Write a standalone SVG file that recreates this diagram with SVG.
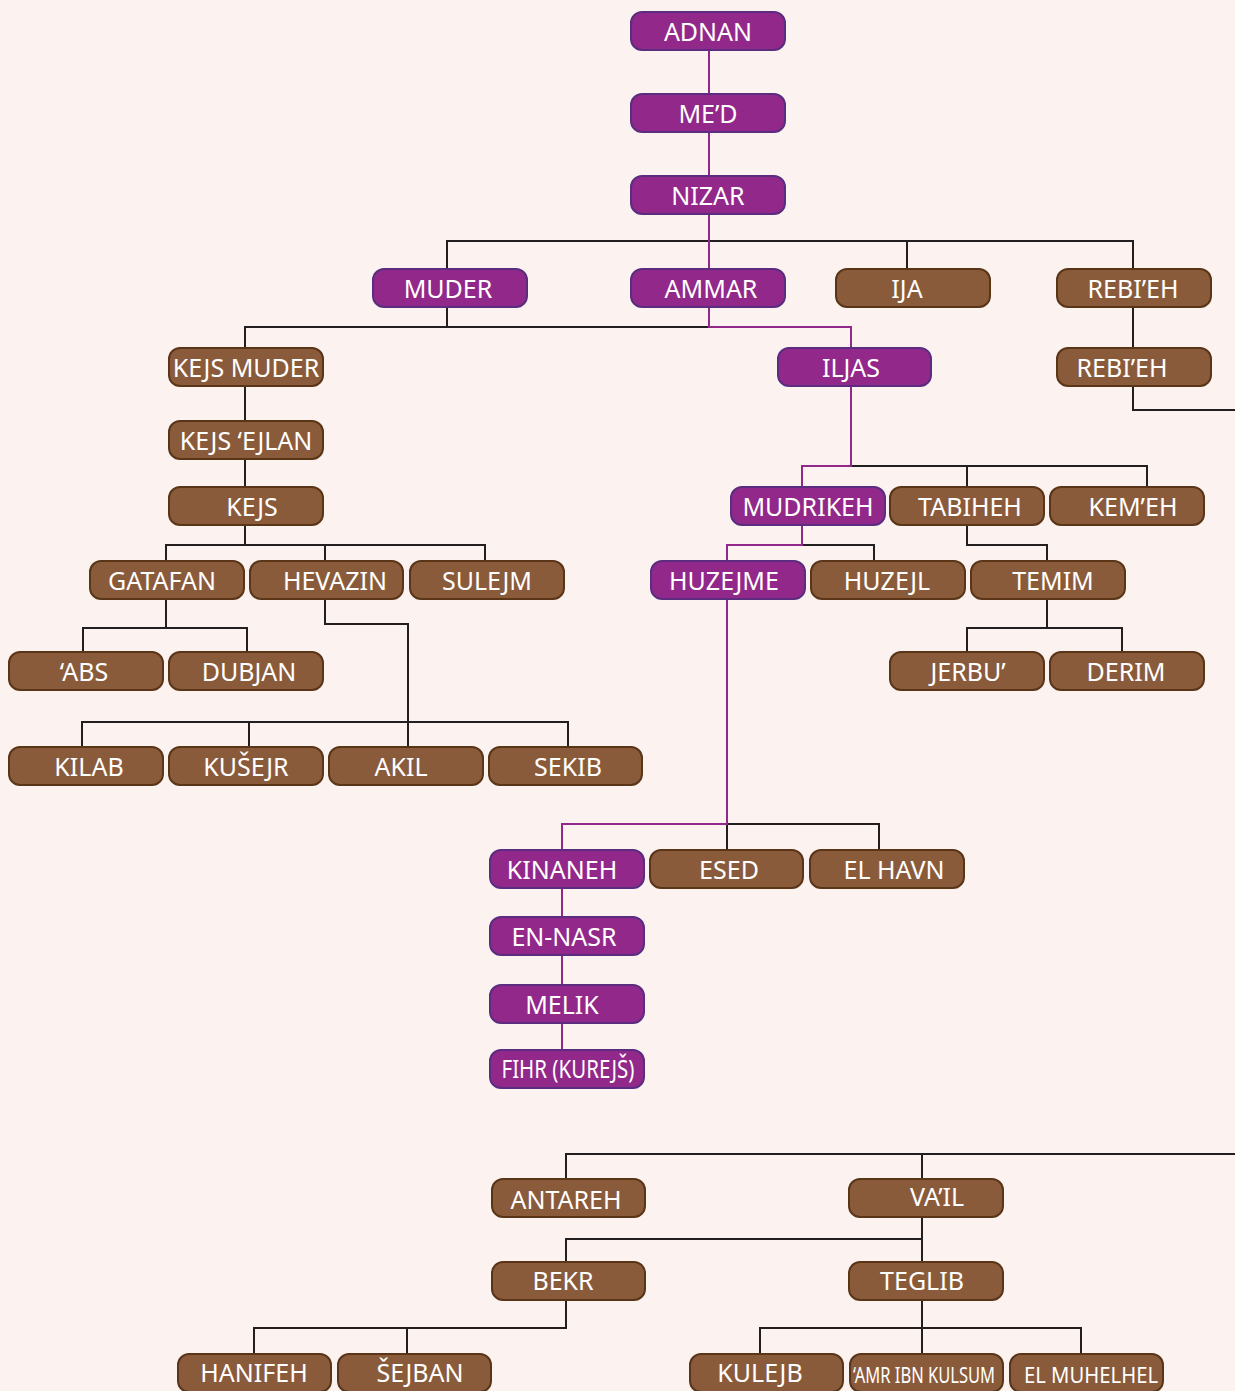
<svg xmlns="http://www.w3.org/2000/svg" width="1235" height="1391" viewBox="0 0 1235 1391">
<style>
.p{fill:#91288A;stroke:#5B2D80;stroke-width:2}
.b{fill:#8A5B3B;stroke:#5A3518;stroke-width:2}
text{font-family:"Noto Sans","Open Sans",sans-serif;font-size:25px;fill:#fff;text-anchor:middle}
.s{font-size:21px}
.k{fill:none;stroke:#231F20;stroke-width:2}
.m{fill:none;stroke:#91288A;stroke-width:2}
</style>
<rect width="1235" height="1391" fill="#FCF3F1"/>
<g id="connectors">
<path class="k" d="M447 269V241H1133V269M907 241V269"/>
<path class="k" d="M447 307V327M245 348V327H709M245 386V421M245 459V487M245 525V545M166 561V545H485V561M325 545V561"/>
<path class="k" d="M1133 307V348M1133 386V410H1235"/>
<path class="k" d="M166 599V628M83 652V628H247V652M325 599V624H408V747M82 747V722H568V750M249 722V747"/>
<path class="k" d="M851 466H1147V487M967 466V487M802 545H874V561M967 525V545H1047V561M1047 599V628M967 652V628H1122V652"/>
<path class="k" d="M727 824H879V850M727 824V850"/>
<path class="k" d="M566 1179V1154H1235M922 1154V1179M922 1217V1262M566 1262V1239H922M566 1300V1328H254V1354M407 1328V1354M922 1300V1354M760 1354V1328H1081V1354"/>
<path class="m" d="M709 50V94M709 132V176M709 214V269M709 307V327H851V348M851 386V466H802V487M802 525V545H727V561M727 599V824H562V850M562 888V917M562 955V985M562 1023V1050"/>
</g>
<g id="adnan"><rect class="p" x="631" y="12" width="154" height="38" rx="11"/><text x="708" y="41">ADNAN</text></g>
<g id="med"><rect class="p" x="631" y="94" width="154" height="38" rx="11"/><text x="708" y="123">ME’D</text></g>
<g id="nizar"><rect class="p" x="631" y="176" width="154" height="38" rx="11"/><text x="708" y="205">NIZAR</text></g>
<g id="muder"><rect class="p" x="373" y="269" width="154" height="38" rx="11"/><text x="448" y="298">MUDER</text></g>
<g id="ammar"><rect class="p" x="631" y="269" width="154" height="38" rx="11"/><text x="711" y="298">AMMAR</text></g>
<g id="ija"><rect class="b" x="836" y="269" width="154" height="38" rx="11"/><text x="907" y="298">IJA</text></g>
<g id="rebieh1"><rect class="b" x="1057" y="269" width="154" height="38" rx="11"/><text x="1133" y="298">REBI’EH</text></g>
<g id="kejsmuder"><rect class="b" x="169" y="348" width="154" height="38" rx="11"/><text x="246" y="377">KEJS MUDER</text></g>
<g id="iljas"><rect class="p" x="778" y="348" width="153" height="38" rx="11"/><text x="851" y="377">ILJAS</text></g>
<g id="rebieh2"><rect class="b" x="1057" y="348" width="154" height="38" rx="11"/><text x="1122" y="377">REBI’EH</text></g>
<g id="kejsejlan"><rect class="b" x="169" y="421" width="154" height="38" rx="11"/><text x="246" y="450">KEJS ‘EJLAN</text></g>
<g id="kejs"><rect class="b" x="169" y="487" width="154" height="38" rx="11"/><text x="252" y="516">KEJS</text></g>
<g id="mudrikeh"><rect class="p" x="731" y="487" width="154" height="38" rx="11"/><text x="808" y="516">MUDRIKEH</text></g>
<g id="tabiheh"><rect class="b" x="890" y="487" width="154" height="38" rx="11"/><text x="970" y="516">TABIHEH</text></g>
<g id="kemeh"><rect class="b" x="1050" y="487" width="154" height="38" rx="11"/><text x="1133" y="516">KEM’EH</text></g>
<g id="gatafan"><rect class="b" x="90" y="561" width="154" height="38" rx="11"/><text x="162" y="590">GATAFAN</text></g>
<g id="hevazin"><rect class="b" x="250" y="561" width="153" height="38" rx="11"/><text x="335" y="590">HEVAZIN</text></g>
<g id="sulejm"><rect class="b" x="410" y="561" width="154" height="38" rx="11"/><text x="487" y="590">SULEJM</text></g>
<g id="huzejme"><rect class="p" x="651" y="561" width="154" height="38" rx="11"/><text x="724" y="590">HUZEJME</text></g>
<g id="huzejl"><rect class="b" x="811" y="561" width="154" height="38" rx="11"/><text x="887" y="590">HUZEJL</text></g>
<g id="temim"><rect class="b" x="971" y="561" width="154" height="38" rx="11"/><text x="1053" y="590">TEMIM</text></g>
<g id="abs"><rect class="b" x="9" y="652" width="154" height="38" rx="11"/><text x="84" y="681">‘ABS</text></g>
<g id="dubjan"><rect class="b" x="169" y="652" width="154" height="38" rx="11"/><text x="249" y="681">DUBJAN</text></g>
<g id="jerbu"><rect class="b" x="890" y="652" width="154" height="38" rx="11"/><text x="968" y="681">JERBU’</text></g>
<g id="derim"><rect class="b" x="1050" y="652" width="154" height="38" rx="11"/><text x="1126" y="681">DERIM</text></g>
<g id="kilab"><rect class="b" x="9" y="747" width="154" height="38" rx="11"/><text x="89" y="776">KILAB</text></g>
<g id="kusejr"><rect class="b" x="169" y="747" width="154" height="38" rx="11"/><text x="246" y="776">KUŠEJR</text></g>
<g id="akil"><rect class="b" x="329" y="747" width="154" height="38" rx="11"/><text x="401" y="776">AKIL</text></g>
<g id="sekib"><rect class="b" x="489" y="747" width="153" height="38" rx="11"/><text x="568" y="776">SEKIB</text></g>
<g id="kinaneh"><rect class="p" x="490" y="850" width="154" height="38" rx="11"/><text x="562" y="879">KINANEH</text></g>
<g id="esed"><rect class="b" x="650" y="850" width="153" height="38" rx="11"/><text x="729" y="879">ESED</text></g>
<g id="elhavn"><rect class="b" x="810" y="850" width="154" height="38" rx="11"/><text x="894" y="879">EL HAVN</text></g>
<g id="ennasr"><rect class="p" x="490" y="917" width="154" height="38" rx="11"/><text x="564" y="946">EN-NASR</text></g>
<g id="melik"><rect class="p" x="490" y="985" width="154" height="38" rx="11"/><text x="562" y="1014">MELIK</text></g>
<g id="fihr"><rect class="p" x="490" y="1050" width="154" height="38" rx="11"/><text x="568" y="1078" font-size="22" textLength="133" lengthAdjust="spacingAndGlyphs">FIHR (KUREJŠ)</text></g>
<g id="antareh"><rect class="b" x="492" y="1179" width="153" height="38" rx="11"/><text x="566" y="1209">ANTAREH</text></g>
<g id="vail"><rect class="b" x="849" y="1179" width="154" height="38" rx="11"/><text x="937" y="1206">VA’IL</text></g>
<g id="bekr"><rect class="b" x="492" y="1262" width="153" height="38" rx="11"/><text x="563" y="1290">BEKR</text></g>
<g id="teglib"><rect class="b" x="849" y="1262" width="154" height="38" rx="11"/><text x="922" y="1290">TEGLIB</text></g>
<g id="hanifeh"><rect class="b" x="178" y="1354" width="153" height="38" rx="11"/><text x="254" y="1382">HANIFEH</text></g>
<g id="sejban"><rect class="b" x="338" y="1354" width="153" height="38" rx="11"/><text x="420" y="1382">ŠEJBAN</text></g>
<g id="kulejb"><rect class="b" x="690" y="1354" width="153" height="38" rx="11"/><text x="760" y="1382">KULEJB</text></g>
<g id="amr"><rect class="b" x="850" y="1354" width="153" height="38" rx="11"/><text class="s" x="924" y="1383" textLength="142" lengthAdjust="spacingAndGlyphs">‘AMR IBN KULSUM</text></g>
<g id="muhelhel"><rect class="b" x="1010" y="1354" width="153" height="38" rx="11"/><text class="s" x="1091" y="1383" textLength="134" lengthAdjust="spacingAndGlyphs">EL MUHELHEL</text></g>
</svg>
